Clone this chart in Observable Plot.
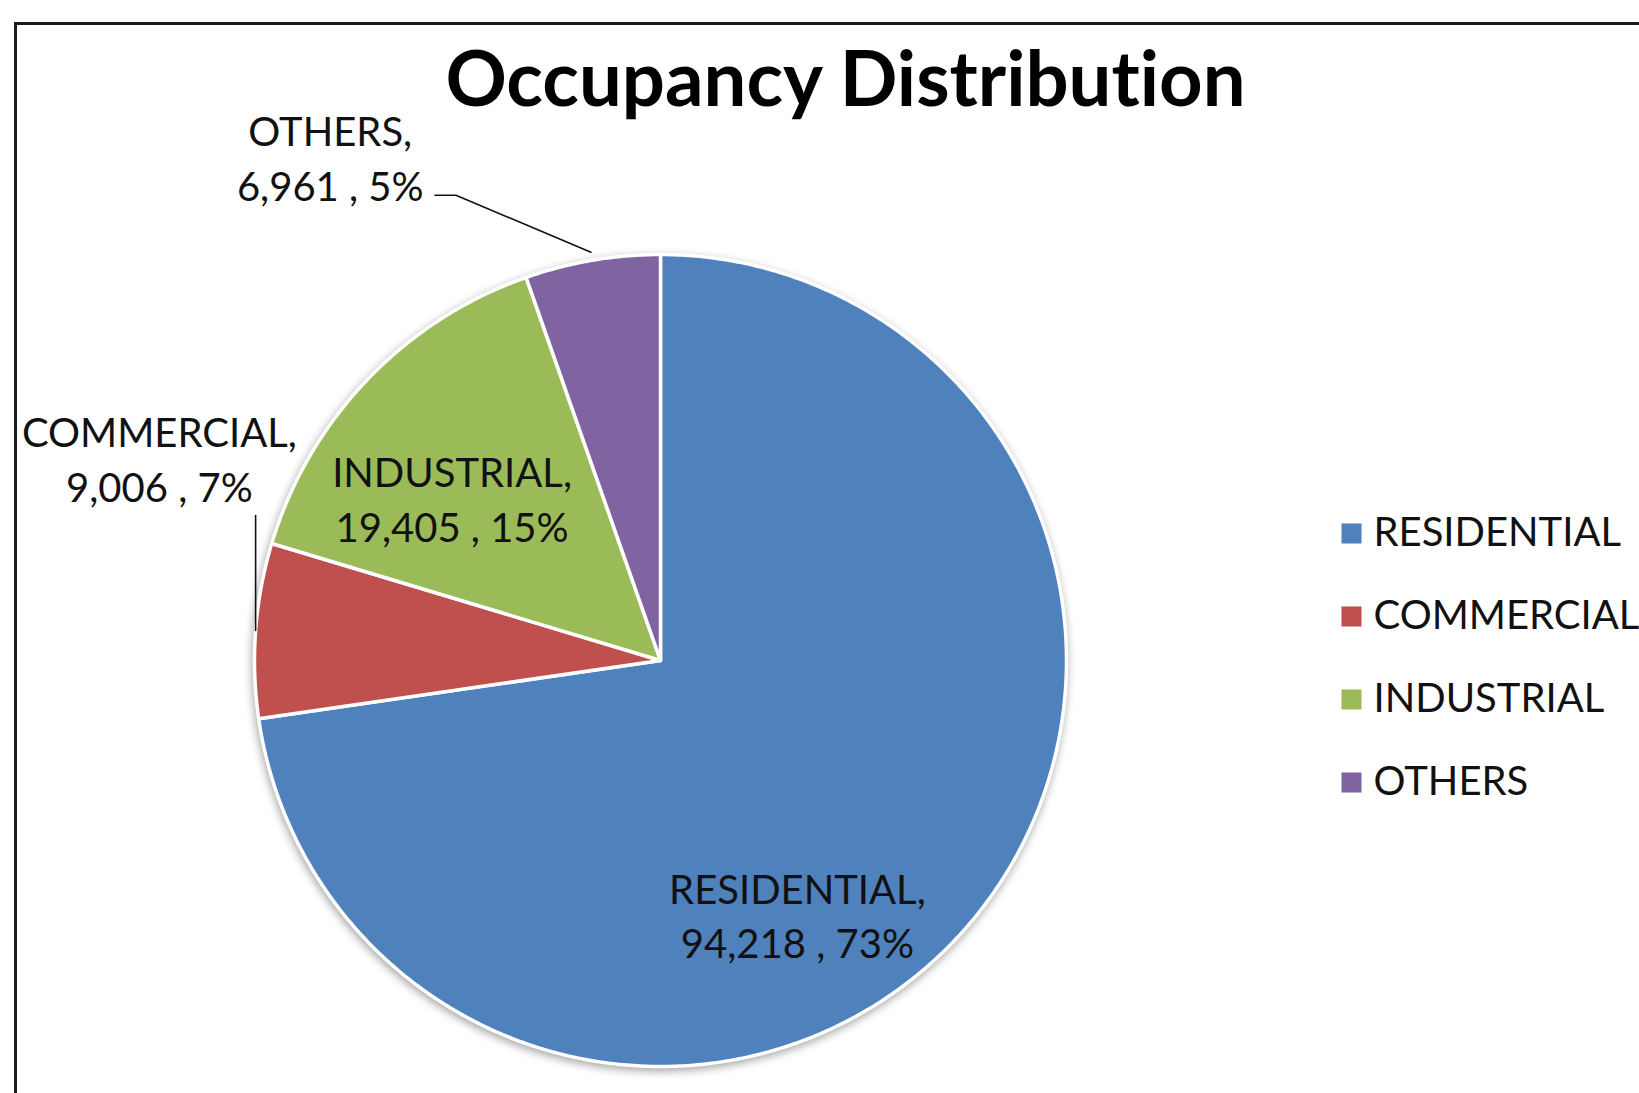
<!DOCTYPE html>
<html>
<head>
<meta charset="utf-8">
<script src="https://cdn.jsdelivr.net/npm/d3@7"></script>
<script src="https://cdn.jsdelivr.net/npm/@observablehq/plot@0.6"></script>
<style>
  html, body { margin: 0; padding: 0; background: #fff; }
  #wrap { position: relative; width: 1639px; height: 1093px; overflow: hidden; }
  #frame { position: absolute; left: 14px; top: 22px; width: 1700px; height: 1200px;
           border-left: 3px solid #1c1c1c; border-top: 3px solid #1c1c1c; box-sizing: border-box; }
  #chart { position: absolute; left: 0; top: 0; }
  #chart svg text { font-variant-ligatures: none; font-feature-settings: "liga" 0, "clig" 0; }
</style>
</head>
<body>
<div id="wrap"><div id="frame"></div><div id="chart"></div></div>
<script>
// ---- data ----
const title = "Occupancy Distribution";
const categories = ["RESIDENTIAL", "COMMERCIAL", "INDUSTRIAL", "OTHERS"];
const values = [94218, 9006, 19405, 6961];
const colors = ["#4F81BD", "#C0504D", "#9BBB59", "#8064A2"];

// ---- layout (pixels) ----
const W = 1639, H = 1093;
const CX = 660, CY = 660, R = 406;
const FONT = "Lato, 'Open Sans', sans-serif";
const LABEL_SIZE = 40;
const labelLayout = {
  RESIDENTIAL: {r: 0.7, dx: -78, dy: 67},
  COMMERCIAL: {r: 1.25, dx: 5, dy: -166},
  INDUSTRIAL: {r: 0.7, dx: -3, dy: 33},
  OTHERS: {r: 1.25, dx: -245, dy: -4}
};
// leader lines: end radius, and offsets (px) of the path points from the end point
const leaderLayout = {
  COMMERCIAL: {r: 1.0, pts: [[0, -115], [0, 0]]},
  OTHERS: {r: 1.02, pts: [[-156, -57], [-135, -57], [0, 0]]}
};
const legendLayout = {x: 1351, textX: 1373, y0: 533, step: 83, size: 11.3};
const titleLayout = {x: 845, y: 81, size: 76};

const ux = px => (px - CX) / R;
const uy = py => (CY - py) / R;

// ---- derived ----
const total = d3.sum(values);
const fmt = d3.format(",");
const pie = d3.pie().sort(null).value(d => d.value)(categories.map((c, i) => ({cat: c, value: values[i]})));

const slicePts = [];
for (const a of pie) {
  slicePts.push({cat: a.data.cat, x: 0, y: 0});
  const n = Math.max(2, Math.ceil((a.endAngle - a.startAngle) / (Math.PI / 360)));
  for (let k = 0; k <= n; k++) {
    const t = a.startAngle + (a.endAngle - a.startAngle) * k / n;
    slicePts.push({cat: a.data.cat, x: Math.sin(t), y: Math.cos(t)});
  }
}

const labels = pie.map(a => {
  const mid = (a.startAngle + a.endAngle) / 2;
  const L = labelLayout[a.data.cat];
  const pct = Math.round(a.data.value / total * 100);
  return {
    cat: a.data.cat,
    x: Math.sin(mid) * L.r + L.dx / R,
    y: Math.cos(mid) * L.r - L.dy / R,
    text: `${a.data.cat},\n${fmt(a.data.value)} , ${pct}%`
  };
});

const leaders = [];
for (const a of pie) {
  const L = leaderLayout[a.data.cat];
  if (!L) continue;
  const mid = (a.startAngle + a.endAngle) / 2;
  const ex = Math.sin(mid) * L.r, ey = Math.cos(mid) * L.r;
  for (const [dx, dy] of L.pts) leaders.push({cat: a.data.cat, x: ex + dx / R, y: ey - dy / R});
}

const legend = categories.map((c, i) => ({
  cat: c,
  x: ux(legendLayout.x),
  tx: ux(legendLayout.textX),
  y: uy(legendLayout.y0 + i * legendLayout.step)
}));

const chart = Plot.plot({
  width: W,
  height: H,
  margin: 0,
  style: {background: "transparent", fontFamily: FONT, overflow: "visible"},
  x: {domain: [ux(0), ux(W)], axis: null},
  y: {domain: [uy(H), uy(0)], axis: null},
  color: {domain: categories, range: colors},
  marks: [
    Plot.line(slicePts, {x: "x", y: "y", z: "cat", fill: "cat", stroke: "#fff", strokeWidth: 3.5,
      strokeLinejoin: "round", curve: "linear-closed"}),
    Plot.line(leaders, {x: "x", y: "y", z: "cat", stroke: "#111", strokeWidth: 1.6}),
    Plot.text(labels, {x: "x", y: "y", text: "text", fontSize: LABEL_SIZE, lineHeight: 1.36,
      fill: "#111", textAnchor: "middle", lineAnchor: "middle"}),
    Plot.dot(legend, {x: "x", y: "y", fill: "cat", symbol: "square", r: legendLayout.size}),
    Plot.text(legend, {x: "tx", y: "y", text: "cat", fontSize: LABEL_SIZE, fill: "#111",
      textAnchor: "start", lineAnchor: "middle"}),
    Plot.text([title], {x: () => ux(titleLayout.x), y: () => uy(titleLayout.y), text: d => d,
      fontSize: titleLayout.size, fontWeight: "bold", fill: "#000", textAnchor: "middle", lineAnchor: "middle"})
  ]
});

const pieG = chart.querySelector('g[aria-label="line"]');
if (pieG) pieG.style.filter = "drop-shadow(-1px 3px 4px rgba(0,0,0,0.35))";
document.getElementById("chart").appendChild(chart);
</script>
</body>
</html>
